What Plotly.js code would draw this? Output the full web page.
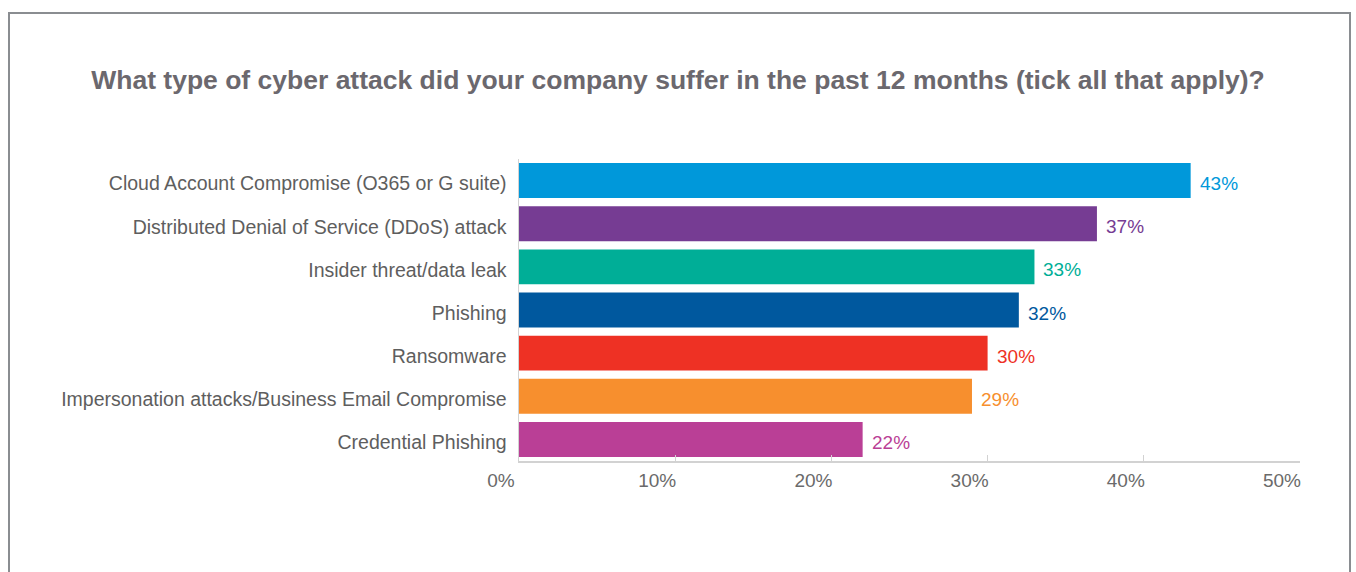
<!DOCTYPE html>
<html>
<head>
<meta charset="utf-8">
<script src="https://cdn.plot.ly/plotly-3.0.1.min.js"></script>
<style>
  html, body { margin: 0; padding: 0; width: 1356px; height: 572px; overflow: hidden; background: #fff; }
  #frame { position: absolute; left: 8px; top: 12px; width: 1343px; height: 620px; border: 2px solid #8a8d91; box-sizing: border-box; }
  #chart { position: absolute; left: 0; top: 0; width: 1356px; height: 572px; }
</style>
</head>
<body>
<div id="frame"></div>
<div id="chart"></div>
<script>
const categories = [
  "Cloud Account Compromise (O365 or G suite)",
  "Distributed Denial of Service (DDoS) attack",
  "Insider threat/data leak",
  "Phishing",
  "Ransomware",
  "Impersonation attacks/Business Email Compromise",
  "Credential Phishing"
];
const values = [43, 37, 33, 32, 30, 29, 22];
const barColors = ["#0098DA", "#763C93", "#00AE97", "#00589E", "#EE3124", "#F78F2E", "#BA3F96"];
const xTickValues = [0, 10, 20, 30, 40, 50];
const titleText = "What type of cyber attack did your company suffer in the past 12 months (tick all that apply)?";

const FONT = "Liberation Sans, Arial, sans-serif";

const trace = {
  type: "bar",
  orientation: "h",
  y: categories,
  x: values,
  marker: { color: barColors },
  cliponaxis: false,
  hoverinfo: "none"
};

const valueLabels = values.map((v, i) => ({
  x: v,
  y: categories[i],
  xref: "x",
  yref: "y",
  text: v + "%",
  showarrow: false,
  xanchor: "left",
  yanchor: "middle",
  xshift: 7,
  yshift: -3,
  font: { family: FONT, size: 19, color: barColors[i] }
}));

const layout = {
  width: 1356,
  height: 572,
  paper_bgcolor: "rgba(0,0,0,0)",
  plot_bgcolor: "rgba(0,0,0,0)",
  margin: { l: 519, r: 56, t: 159, b: 111 },
  bargap: 0.19,
  showlegend: false,
  annotations: valueLabels,
  title: {
    text: "<b>" + titleText + "</b>",
    font: { family: FONT, size: 26.5, color: "#6b686e" },
    x: 0.5, xref: "container", xanchor: "center",
    y: 1 - 80 / 572, yref: "container", yanchor: "middle"
  },
  xaxis: {
    range: [0, 50],
    tickvals: xTickValues,
    ticktext: xTickValues.map(v => v + "%"),
    showgrid: false,
    zeroline: false,
    showline: true,
    linecolor: "#d2d2d2",
    linewidth: 1.5,
    ticks: "inside",
    ticklen: 6,
    tickcolor: "#d2d2d2",
    tickfont: { family: FONT, size: 19, color: "#6a6a6a" },
    ticklabelshift: -18,
    ticklabelstandoff: 2,
    fixedrange: true
  },
  yaxis: {
    type: "category",
    autorange: "reversed",
    showgrid: false,
    zeroline: false,
    showline: true,
    linecolor: "#d2d2d2",
    linewidth: 1.5,
    ticks: "",
    ticklabelstandoff: 7,
    ticklabelshift: -3,
    tickfont: { family: FONT, size: 19.5, color: "#5e5e5e" },
    fixedrange: true
  }
};

Plotly.newPlot("chart", [trace], layout, { displayModeBar: false, staticPlot: true });
</script>
</body>
</html>
